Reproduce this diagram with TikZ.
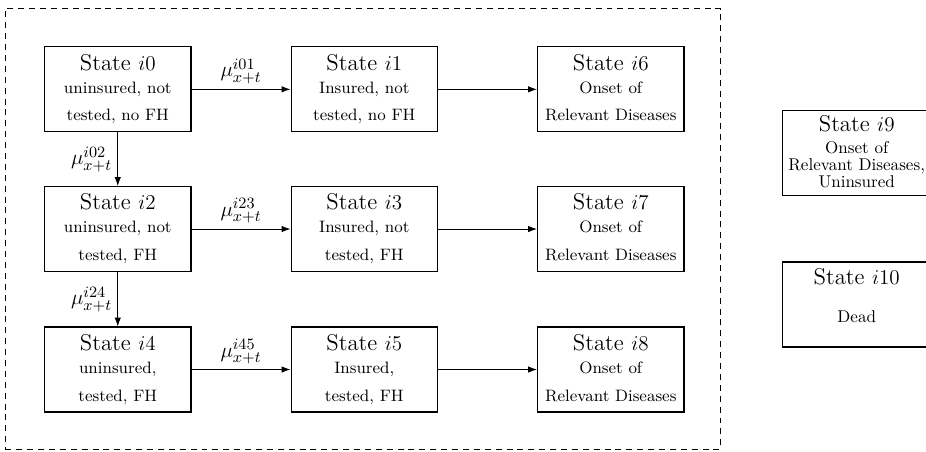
\documentclass[tikz,border=0pt]{standalone}
\usetikzlibrary{calc,arrows.meta}
\tikzset{
  x=0.02cm, y=-0.02cm,
  statebox/.style={draw, line width=0.6pt, minimum width=2.93cm, minimum height=1.7cm, inner sep=0pt, anchor=north west},
  ttl/.style={anchor=base, inner sep=0pt, font=\fontsize{13}{15}\selectfont},
  sub/.style={anchor=base, inner sep=0pt, font=\fontsize{9.4}{11}\selectfont},
  subr/.style={anchor=base, inner sep=0pt, font=\fontsize{9.7}{11}\selectfont},
  trans/.style={line width=0.5pt, -{Latex[length=5pt,width=3.6pt]}},
  rate/.style={inner sep=1.5pt, font=\fontsize{13}{15}\selectfont},
}
\newcommand\StateBox[6]{%
  \node[statebox] (#1) at (#2,#3) {};
  \node[ttl] (#1t) at ($(#1.north)+(0,24)$) {State $i#4$};
  \node[sub] (#1a) at ($(#1.north)+(0,47)$) {#5};
  \node[sub] (#1b) at ($(#1.north)+(0,74.5)$) {#6};
}
\begin{document}
\begin{tikzpicture}
\clip (0,0) rectangle (926,452);
\node[draw, dash pattern=on 3.4pt off 2.8pt, line width=0.5pt, minimum width=14.3cm, minimum height=8.82cm, anchor=north west, inner sep=0pt] (frame) at (5,8) {};
% row 1
\StateBox{s0}{44}{46.3}{0}{uninsured, not}{tested, no FH}
\StateBox{s1}{290.5}{46.3}{1}{Insured, not}{tested, no FH}
\StateBox{s6}{537}{46.3}{6}{Onset of}{Relevant Diseases}
% row 2
\StateBox{s2}{44}{186}{2}{uninsured, not}{tested, FH}
\StateBox{s3}{290.5}{186}{3}{Insured, not}{tested, FH}
\StateBox{s7}{537}{186}{7}{Onset of}{Relevant Diseases}
% row 3
\StateBox{s4}{44}{326.5}{4}{uninsured,}{tested, FH}
\StateBox{s5}{290.5}{326.5}{5}{Insured,}{tested, FH}
\StateBox{s8}{537}{326.5}{8}{Onset of}{Relevant Diseases}
% right boxes (their right sides lie beyond the picture's edge)
\coordinate (r9c) at (856.7,110.7);
\coordinate (r10c) at (856.7,262);
\draw[line width=0.6pt] (782.7,110.7) rectangle (990,195.7);
\draw[line width=0.6pt] (782.7,262) rectangle (990,347);
\node[ttl] (s9t) at ($(r9c)+(0,21)$) {State $i9$};
\node[subr] (s9a) at ($(r9c)+(0,43)$) {Onset of};
\node[subr] (s9b) at ($(r9c)+(0,60)$) {Relevant Diseases,};
\node[subr] (s9c) at ($(r9c)+(0,77)$) {Uninsured};
\node[ttl] (s10t) at ($(r10c)+(0,23)$) {State $i10$};
\node[subr] (s10a) at ($(r10c)+(0,61)$) {Dead};
% transitions
\draw[trans] (s0) -- node[rate, above=1.5pt] (r01) {$\mu^{i01}_{x+t}$} (s1);
\draw[trans] (s1) -- (s6);
\draw[trans] (s2) -- node[rate, above=1.5pt] (r23) {$\mu^{i23}_{x+t}$} (s3);
\draw[trans] (s3) -- (s7);
\draw[trans] (s4) -- node[rate, above=1.5pt] (r45) {$\mu^{i45}_{x+t}$} (s5);
\draw[trans] (s5) -- (s8);
\draw[trans] (s0) -- node[rate, left=1.5pt] (r02) {$\mu^{i02}_{x+t}$} (s2);
\draw[trans] (s2) -- node[rate, left=1.5pt] (r24) {$\mu^{i24}_{x+t}$} (s4);
\end{tikzpicture}
\end{document}
